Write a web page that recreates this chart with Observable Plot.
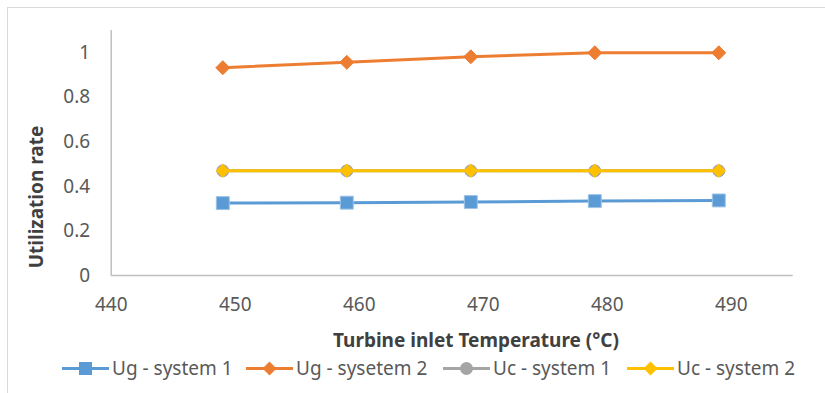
<!DOCTYPE html>
<html>
<head>
<meta charset="utf-8">
<script src="https://cdn.jsdelivr.net/npm/d3@7"></script>
<script src="https://cdn.jsdelivr.net/npm/@observablehq/plot@0.6"></script>
<style>
  html, body { margin: 0; padding: 0; background: #fff; }
  body { position: relative; width: 825px; height: 393px; overflow: hidden; font-family: "Noto Sans", sans-serif; }
  #frame { position: absolute; left: 7px; top: 7px; width: 840px; height: 420px; border: 1px solid #d9d9d9; box-sizing: border-box; }
  #chart { position: absolute; left: 0; top: 0; }
  .title { position: absolute; font-weight: bold; color: #404040; font-size: 19px; white-space: nowrap; }
  #xtitle { left: 476px; top: 340px; transform: translate(-50%, -50%); }
  #ytitle { left: 36px; top: 197px; transform: translate(-50%, -50%) rotate(-90deg); }
  #legend { position: absolute; left: 0; top: 356px; width: 825px; height: 24px; }
  .item { position: absolute; top: 0; height: 24px; display: flex; align-items: center; font-size: 19px; color: #595959; white-space: nowrap; }
  .item svg { display: block; margin-right: 3px; }
</style>
</head>
<body>
<div id="frame"></div>
<div id="chart"></div>
<div class="title" id="ytitle">Utilization rate</div>
<div class="title" id="xtitle">Turbine inlet Temperature (°C)</div>
<div id="legend"></div>
<script>
// ---- data ----
const temps = [449, 459, 469, 479, 489];
const ugSystem1 = [0.325, 0.327, 0.330, 0.334, 0.337];
const ugSystem2 = [0.933, 0.957, 0.982, 1.0, 1.0];
const ucSystem1 = [0.47, 0.47, 0.47, 0.47, 0.47];
const ucSystem2 = [0.47, 0.47, 0.47, 0.47, 0.47];
const seriesNames = ["Ug - system 1", "Ug - sysetem 2", "Uc - system 1", "Uc - system 2"];
const seriesColors = ["#5B9BD5", "#ED7D31", "#A5A5A5", "#FFC000"];
const seriesSymbols = ["square", "diamond2", "circle", "diamond2"];
const xTicks = [440, 450, 460, 470, 480, 490];
const yTicks = [0, 0.2, 0.4, 0.6, 0.8, 1];

const seriesValues = [ugSystem1, ugSystem2, ucSystem1, ucSystem2];
const rows = [];
seriesNames.forEach((name, i) => {
  temps.forEach((t, j) => rows.push({series: name, temp: t, value: seriesValues[i][j]}));
});

const markerR = {"square": 7.3, "diamond2": 6.3, "circle": 6};

const marks = [
  Plot.ruleX([440], {stroke: "#bfbfbf", strokeWidth: 1.5}),
  Plot.ruleY([0], {stroke: "#bfbfbf", strokeWidth: 1.5})
];
seriesNames.forEach((name, i) => {
  const data = rows.filter(d => d.series === name);
  marks.push(Plot.line(data, {x: "temp", y: "value", stroke: seriesColors[i], strokeWidth: 3}));
  marks.push(Plot.dot(data, {
    x: "temp", y: "value", symbol: () => seriesSymbols[i],
    r: markerR[seriesSymbols[i]], fill: seriesColors[i],
    stroke: seriesSymbols[i] === "square" ? "#9dc3e6" : (i === 3 ? "#A5A5A5" : seriesColors[i]),
    strokeWidth: i === 3 ? 0 : 1
  }));
});

const chart = Plot.plot({
  width: 825,
  height: 345,
  marginLeft: 110.7,
  marginRight: 32.3,
  marginTop: 30,
  marginBottom: 70,
  style: {fontFamily: "Noto Sans, sans-serif", fontSize: "19px", color: "#595959", background: "transparent"},
  x: {domain: [440, 495], ticks: xTicks, tickSize: 0, tickPadding: 22, label: null},
  y: {domain: [0, 1.1], ticks: yTicks, tickSize: 0, tickPadding: 21, label: null, tickFormat: d => `${+d.toFixed(1)}`},
  symbol: {type: "identity"},
  marks
});
document.getElementById("chart").appendChild(chart);

// ---- legend ----
const legendPos = [62, 246, 443, 627];
const legend = document.getElementById("legend");
function markerSvg(sym, color) {
  if (sym === "square") return `<rect x="17" y="5" width="13" height="13" fill="${color}"/>`;
  if (sym === "circle") return `<circle cx="23.5" cy="11.5" r="6.5" fill="${color}"/>`;
  return `<polygon points="23.5,4.5 30.5,11.5 23.5,18.5 16.5,11.5" fill="${color}"/>`;
}
seriesNames.forEach((name, i) => {
  const div = document.createElement("div");
  div.className = "item";
  div.style.left = legendPos[i] + "px";
  div.innerHTML = `<svg width="47" height="23"><line x1="0" x2="47" y1="11.5" y2="11.5" stroke="${seriesColors[i]}" stroke-width="3"/>${markerSvg(seriesSymbols[i], seriesColors[i])}</svg><span>${name}</span>`;
  legend.appendChild(div);
});
</script>
</body>
</html>
